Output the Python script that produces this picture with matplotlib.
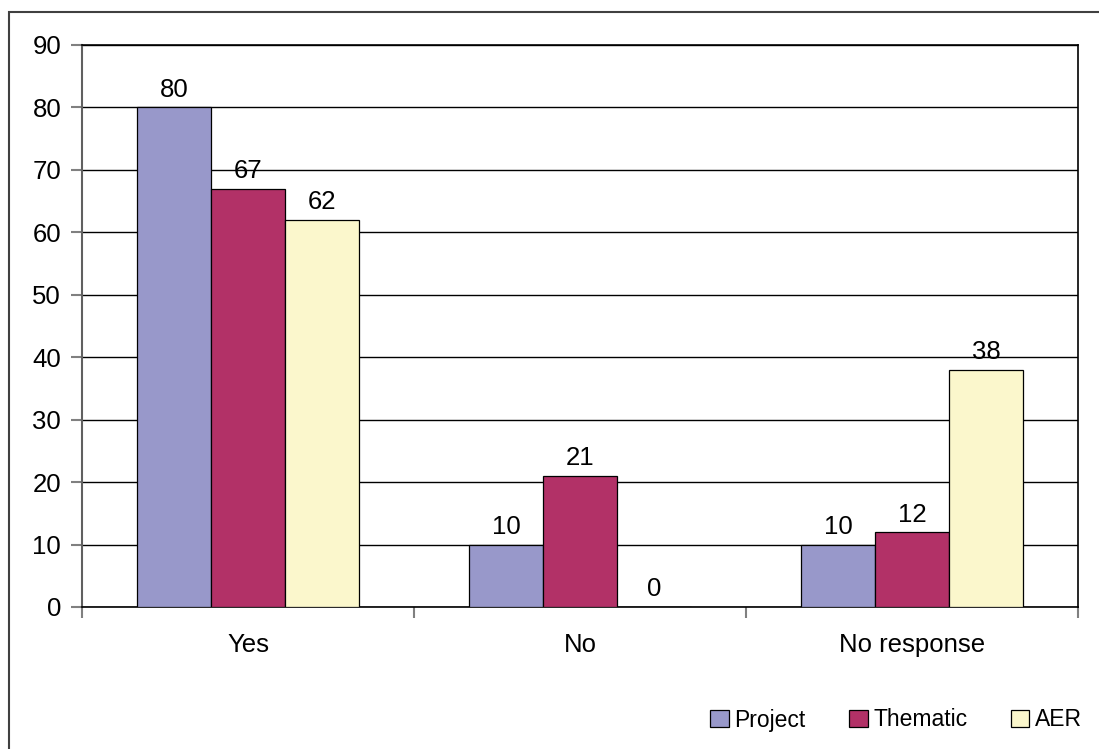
import matplotlib as mpl
mpl.use('Agg')
import numpy as np
import matplotlib.pyplot as plt
from matplotlib.patches import Rectangle

plt.rcParams['font.family'] = ['Liberation Sans', 'DejaVu Sans']

categories = ['Yes', 'No', 'No response']
series_names = ['Project', 'Thematic', 'AER']
project = [80, 10, 10]
thematic = [67, 21, 12]
aer = [62, 0, 38]
colors = ['#9898CA', '#B23167', '#FBF7CC']
yticks = [0, 10, 20, 30, 40, 50, 60, 70, 80, 90]

FS = 18.5


def autolabel(rects, ax):
    """
    Attach a text label above each bar displaying its height
    """
    for rect in rects:
        height = rect.get_height()
        ax.annotate('%d' % int(height),
                    (rect.get_x() + rect.get_width() / 2., height),
                    xytext=(0, 4), textcoords='offset points',
                    ha='center', va='bottom', fontsize=FS)


W, H = 1099, 749
fig = plt.figure(figsize=(W / 100., H / 100.), dpi=100)

# outer chart frame (cropped on right/bottom like the original)
fig.patches.append(Rectangle((9. / W, -0.2), 1.2, 1.2 - 12. / H,
                             transform=fig.transFigure, fill=False,
                             edgecolor='#404040', linewidth=1.5))

ax = fig.add_axes([82. / W, 1 - 607. / H, (1078. - 82.) / W, (607. - 45.) / H])

ind = np.arange(len(categories))
width = 74. / 332.
data = [project, thematic, aer]
for i, vals in enumerate(data):
    rects = ax.bar(ind + (i - 1) * width, vals, width, color=colors[i],
                   edgecolor='black', linewidth=0.9, label=series_names[i],
                   zorder=3)
    autolabel(rects, ax)

ax.set_xlim(-0.5, len(categories) - 0.5)
ax.set_ylim(0, 90)
ax.set_yticks(yticks)
ax.yaxis.grid(True, color='black', linewidth=1.0, zorder=0)
ax.set_axisbelow(True)

# boundary ticks as major, category names as minor
ax.set_xticks(np.arange(len(categories) + 1) - 0.5)
ax.set_xticklabels([])
ax.set_xticks(ind, minor=True)
ax.set_xticklabels(categories, minor=True)
ax.tick_params(axis='x', which='minor', length=0, pad=19, labelsize=FS)
ax.tick_params(axis='x', which='major', length=8, color='#808080', width=1.5)
ax.tick_params(axis='y', length=8, color='#808080', width=1.5, pad=7,
               labelsize=FS)

for side in ['top', 'right', 'bottom']:
    ax.spines[side].set_color('black')
    ax.spines[side].set_linewidth(1.2)
ax.spines['left'].set_color('#606060')
ax.spines['left'].set_linewidth(1.5)

fig.legend(loc='center right', bbox_to_anchor=(1082. / W, 1 - 720. / H),
           ncol=3, frameon=False, fontsize=16.5, handlelength=0.8,
           handleheight=0.8, handletextpad=0.25, columnspacing=1.9,
           borderpad=0, borderaxespad=0)

fig.savefig('out.png', dpi=100)
